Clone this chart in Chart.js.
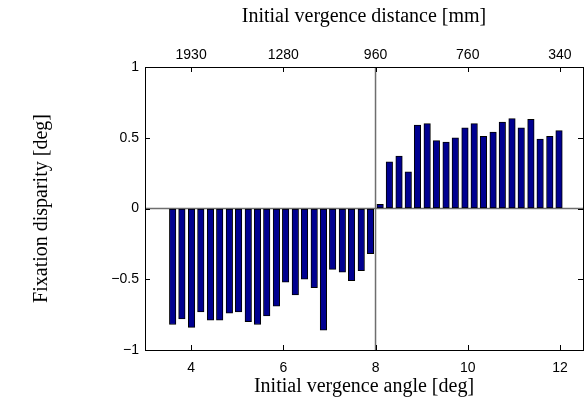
<!DOCTYPE html>
<html>
<head>
<meta charset="utf-8">
<script src="https://cdn.jsdelivr.net/npm/chart.js@4/dist/chart.umd.min.js"></script>
<style>
  html, body { margin: 0; padding: 0; background: #fff; }
  #wrap { width: 584px; height: 409px; }
</style>
</head>
<body>
<div id="wrap"><canvas id="vergence-chart"></canvas></div>
<script>
// vergence angle of each trial [deg]
const vergenceAngles = [
  3.60, 3.80, 4.01, 4.21, 4.42, 4.62, 4.83, 5.03, 5.24, 5.44, 5.64,
  5.85, 6.05, 6.26, 6.46, 6.67, 6.87, 7.07, 7.28, 7.48, 7.69, 7.89,
  8.10, 8.30, 8.51, 8.71, 8.91, 9.12, 9.32, 9.53, 9.73, 9.94, 10.14,
  10.34, 10.55, 10.75, 10.96, 11.16, 11.37, 11.57, 11.78, 11.98,
];
// fixation disparity [deg]
const fixationDisparity = [
  -0.82, -0.78, -0.84, -0.73, -0.79, -0.79, -0.74, -0.73, -0.80, -0.82, -0.76,
  -0.69, -0.52, -0.61, -0.50, -0.56, -0.86, -0.43, -0.45, -0.51, -0.44, -0.32,
  0.03, 0.33, 0.37, 0.26, 0.59, 0.60, 0.48, 0.47, 0.50, 0.57, 0.60,
  0.51, 0.54, 0.61, 0.635, 0.57, 0.63, 0.49, 0.51, 0.55,
];
const angleTicks = [4, 6, 8, 10, 12];
const distanceLabels = ['1930', '1280', '960', '760', '340'];
const disparityTicks = [-1, -0.5, 0, 0.5, 1];
const splitAngle = 8;

const tickFont = { family: "'Liberation Sans', Arial, sans-serif", size: 14 };
const titleFont = { family: "'Liberation Serif', 'Times New Roman', serif", size: 20 };

const setTicks = (values) => (scale) => {
  scale.ticks = values.map((v) => ({ value: v }));
};

// matlab style box, inward ticks and the two reference lines
const boxPlugin = {
  id: 'matlabBox',
  beforeDatasetsDraw(chart) {
    const { ctx, chartArea: a, scales } = chart;
    const x8 = scales.x.getPixelForValue(splitAngle);
    const y0 = scales.y.getPixelForValue(0);
    ctx.save();
    ctx.strokeStyle = '#6e6e6e';
    ctx.lineWidth = 1.5;
    ctx.beginPath();
    ctx.moveTo(a.left, y0);
    ctx.lineTo(a.right, y0);
    ctx.moveTo(x8, a.top);
    ctx.lineTo(x8, a.bottom);
    ctx.stroke();
    ctx.restore();
  },
  afterDraw(chart) {
    const { ctx, chartArea: a, scales } = chart;
    const len = 5;
    ctx.save();
    ctx.strokeStyle = '#000';
    ctx.lineWidth = 1;
    ctx.beginPath();
    angleTicks.forEach((v) => {
      const px = Math.round(scales.x.getPixelForValue(v)) + 0.5;
      ctx.moveTo(px, a.bottom);
      ctx.lineTo(px, a.bottom - len);
      ctx.moveTo(px, a.top);
      ctx.lineTo(px, a.top + len);
    });
    disparityTicks.forEach((v) => {
      const py = Math.round(scales.y.getPixelForValue(v)) + 0.5;
      ctx.moveTo(a.left, py);
      ctx.lineTo(a.left + len, py);
      ctx.moveTo(a.right, py);
      ctx.lineTo(a.right - len, py);
    });
    ctx.stroke();
    ctx.strokeRect(Math.round(a.left) + 0.5, Math.round(a.top) + 0.5,
      Math.round(a.right - a.left), Math.round(a.bottom - a.top));
    ctx.restore();
  },
};

const ctx = document.getElementById('vergence-chart').getContext('2d');
const vergenceChart = new Chart(ctx, {
  type: 'bar',
  data: {
    datasets: [{
      data: vergenceAngles.map((x, i) => ({ x: x, y: fixationDisparity[i] })),
      backgroundColor: '#000090',
      borderColor: '#000000',
      borderWidth: 1,
      borderSkipped: false,
      barThickness: 6.5,
    }],
  },
  options: {
    responsive: true,
    maintainAspectRatio: false,
    animation: false,
    layout: { padding: { left: 0, right: 1, top: 0, bottom: 0 } },
    plugins: {
      legend: { display: false },
      tooltip: { enabled: false },
    },
    scales: {
      x: {
        type: 'linear',
        position: 'bottom',
        offset: false,
        min: 3,
        max: 12.5,
        afterBuildTicks: setTicks(angleTicks),
        afterFit: (s) => { s.height = 59; },
        grid: { drawOnChartArea: false, drawTicks: false, offset: false },
        border: { display: false },
        ticks: { font: tickFont, color: '#000', padding: 10, maxRotation: 0 },
        title: {
          display: true,
          text: 'Initial vergence angle [deg]',
          font: titleFont,
          color: '#000',
          padding: { top: 0, bottom: 10 },
        },
      },
      xTop: {
        type: 'linear',
        position: 'top',
        offset: false,
        min: 3,
        max: 12.5,
        afterBuildTicks: setTicks(angleTicks),
        afterFit: (s) => { s.height = 67; },
        grid: { drawOnChartArea: false, drawTicks: false, offset: false },
        border: { display: false },
        ticks: {
          font: tickFont,
          color: '#000',
          padding: 3,
          maxRotation: 0,
          callback: (v) => distanceLabels[angleTicks.indexOf(v)],
        },
        title: {
          display: true,
          text: 'Initial vergence distance [mm]',
          font: titleFont,
          color: '#000',
          padding: { top: 5, bottom: 0 },
        },
      },
      y: {
        min: -1,
        max: 1,
        afterBuildTicks: setTicks(disparityTicks),
        afterFit: (s) => { s.width = 145; },
        grid: { drawOnChartArea: false, drawTicks: false },
        border: { display: false },
        ticks: {
          font: tickFont,
          color: '#000',
          padding: 6,
          callback: (v) => String(v).replace('-', '\u2212'),
        },
        title: {
          display: true,
          text: 'Fixation disparity [deg]',
          font: titleFont,
          color: '#000',
          padding: { top: 30, bottom: 0 },
        },
      },
    },
  },
  plugins: [boxPlugin],
});
</script>
</body>
</html>
